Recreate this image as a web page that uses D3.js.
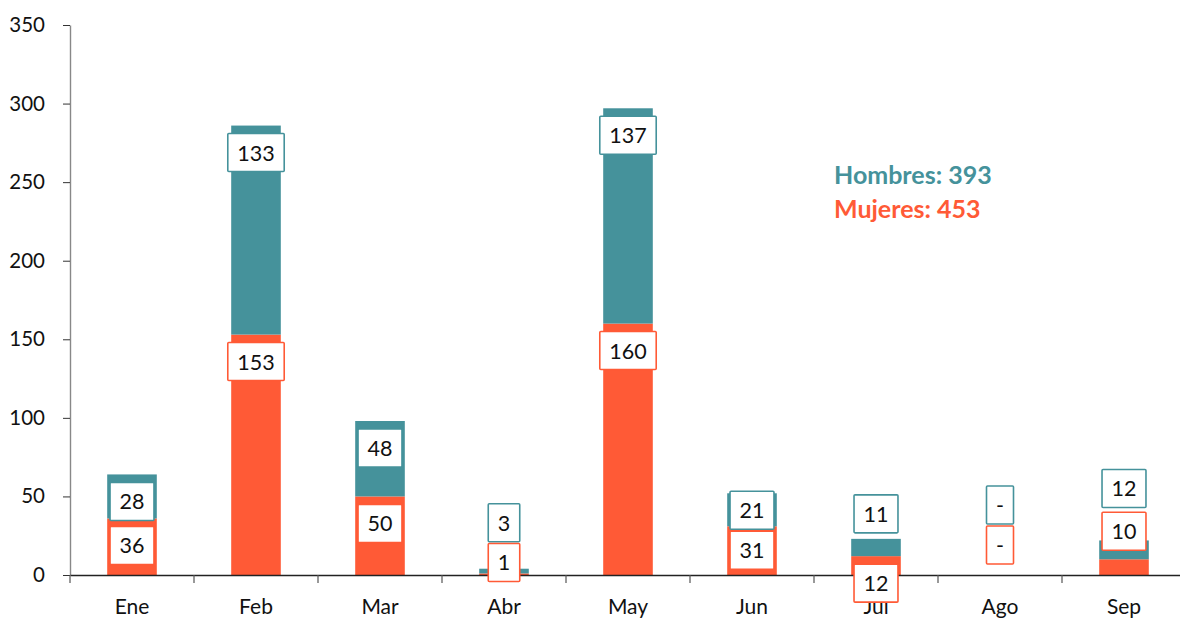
<!DOCTYPE html>
<html>
<head>
<meta charset="utf-8">
<script src="https://d3js.org/d3.v7.min.js"></script>
<style>
  body { margin: 0; background: #fff; }
  svg text { font-family: Lato, "Open Sans", sans-serif; fill: #111; }
</style>
</head>
<body>
<div id="chart"></div>
<script>
// data
var meses   = ["Ene", "Feb", "Mar", "Abr", "May", "Jun", "Jul", "Ago", "Sep"];
var mujeres = [36, 153, 50, 1, 160, 31, 12, 0, 10];
var hombres = [28, 133, 48, 3, 137, 21, 11, 0, 12];
var yTicks  = [0, 50, 100, 150, 200, 250, 300, 350];

var colorH = "#45929b", colorM = "#ff5a36";

// some labels were dragged by hand in the original (px, from the inside-end spot)
var nudgeH = {Abr: -73, Jun: -10, Jul: -52, Ago: -97, Sep: -79};
var nudgeM = {Abr: -38, Jun: -3, Ago: -57, Sep: -55};

var W = 1180, H = 619;
var svg = d3.select("#chart").append("svg")
  .attr("width", W)
  .attr("height", H);

var x = d3.scaleBand()
  .domain(meses)
  .range([70, 1186])
  .paddingInner(0.6)
  .paddingOuter(0.3);
var y = d3.scaleLinear()
  .domain([0, 350])
  .range([575, 25]);

// y axis
var yAxis = svg.append("g")
  .attr("transform", "translate(70,0)")
  .call(d3.axisLeft(y).tickValues(yTicks).tickSize(7).tickSizeOuter(0).tickPadding(18));
yAxis.select(".domain").attr("stroke", "#888").attr("stroke-width", 1.4);
yAxis.selectAll(".tick line").attr("stroke", "#333");
yAxis.selectAll("text").style("font-size", "20.5px").attr("fill", "#111");

var rows = meses.map(function(m, i) {
  return {mes: m, muj: mujeres[i], hom: hombres[i]};
});

// bars
var g = svg.append("g");
g.selectAll(".m").data(rows).enter().append("rect")
  .attr("x", function(d) { return x(d.mes); })
  .attr("width", x.bandwidth())
  .attr("y", function(d) { return y(d.muj); })
  .attr("height", function(d) { return y(0) - y(d.muj); })
  .attr("fill", colorM);
g.selectAll(".h").data(rows).enter().append("rect")
  .attr("x", function(d) { return x(d.mes); })
  .attr("width", x.bandwidth())
  .attr("y", function(d) { return y(d.muj + d.hom); })
  .attr("height", function(d) { return y(d.muj) - y(d.muj + d.hom); })
  .attr("fill", colorH);

// x axis
var gap = (x.step() - x.bandwidth()) / 2;
var xAxis = svg.append("g")
  .attr("transform", "translate(0,575)")
  .call(d3.axisBottom(x).tickSize(0).tickPadding(24));
xAxis.select(".domain").attr("stroke", "#222").attr("stroke-width", 1.3);
xAxis.selectAll("text").style("font-size", "21px").attr("fill", "#111");
var bounds = meses.map(function(m) { return x(m) - gap; });
bounds.push(x(meses[meses.length - 1]) + x.bandwidth() + gap);
xAxis.selectAll(".bnd").data(bounds).enter().append("line")
  .attr("x1", function(d) { return d; })
  .attr("x2", function(d) { return d; })
  .attr("y1", 0)
  .attr("y2", 8)
  .attr("stroke", "#555")
  .attr("stroke-width", 1.2);

// value labels
function addLabel(val, top, cx, dy, col) {
  var cy = top + 27 + (dy || 0);
  var lg = svg.append("g");
  var r = lg.append("rect");
  var t = lg.append("text")
    .attr("x", cx)
    .attr("y", cy)
    .attr("text-anchor", "middle")
    .attr("dominant-baseline", "central")
    .style("font-size", "21.5px")
    .text(val === 0 ? "-" : val);
  var tw = t.node().getComputedTextLength();
  r.attr("x", cx - tw / 2 - 9.5)
    .attr("y", cy - 19)
    .attr("width", tw + 19)
    .attr("height", 38)
    .attr("fill", "#fff")
    .attr("stroke", col)
    .attr("stroke-width", 1.6)
    .attr("rx", 1);
}
rows.forEach(function(d) {
  var cx = x(d.mes) + x.bandwidth() / 2;
  addLabel(d.hom, y(d.muj + d.hom), cx, nudgeH[d.mes], colorH);
  addLabel(d.muj, y(d.muj), cx, nudgeM[d.mes], colorM);
});

// totals
svg.append("text")
  .attr("x", 834).attr("y", 184)
  .style("font-size", "25px").style("font-weight", "bold")
  .style("fill", colorH)
  .text("Hombres: " + d3.sum(hombres));
svg.append("text")
  .attr("x", 834).attr("y", 218)
  .style("font-size", "25px").style("font-weight", "bold")
  .style("fill", colorM)
  .text("Mujeres: " + d3.sum(mujeres));
</script>
</body>
</html>
